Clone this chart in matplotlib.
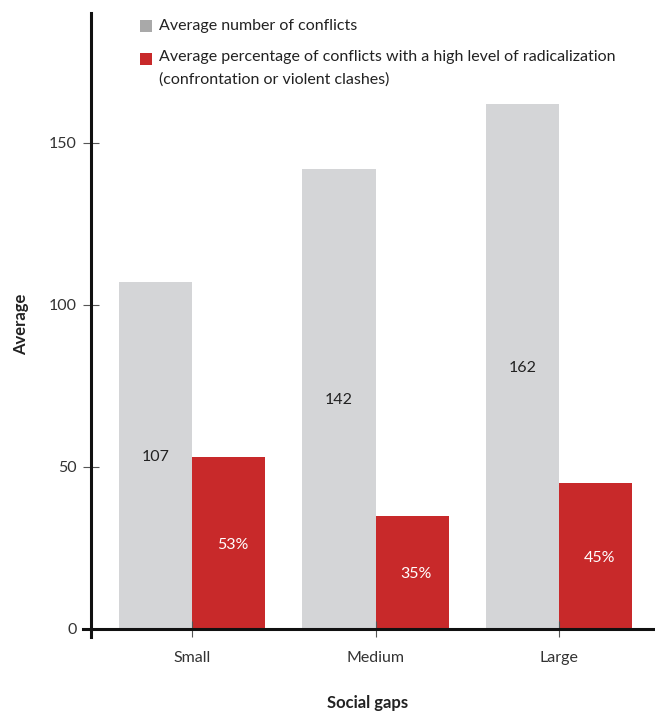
import matplotlib
matplotlib.use("Agg")
import matplotlib.pyplot as plt
from matplotlib.patches import Rectangle
import numpy as np

# Data
categories = ["Small", "Medium", "Large"]
avg_conflicts = [107, 142, 162]
pct_radical = [53, 35, 45]
y_ticks = [0, 50, 100, 150]
legend_labels = ["Average number of conflicts",
                 ["Average percentage of conflicts with a high level of radicalization",
                  "(confrontation or violent clashes)"]]

GRAY_BAR = "#D4D5D7"
GRAY_KEY = "#A9A9A9"
RED = "#C8292A"
TXT = "#222222"

plt.rcParams["font.family"] = ["Lato", "DejaVu Sans"]

fig = plt.figure(figsize=(6.55, 7.12), dpi=100)
W, H = 655, 712
ax = fig.add_axes([90.7 / W, 83 / H, (W - 90.7) / W, 616 / H])

x = np.arange(len(categories))
width = 0.4
b1 = ax.bar(x - width / 2, avg_conflicts, width, color=GRAY_BAR, zorder=1)
b2 = ax.bar(x + width / 2, pct_radical, width, color=RED, zorder=1)

for rect, v in zip(b1, avg_conflicts):
    ax.text(rect.get_x() + rect.get_width() / 2, v / 2, f"{v}",
            ha="center", va="center_baseline", fontsize=11.5, color=TXT)
for rect, v in zip(b2, pct_radical):
    ax.text(rect.get_x() + rect.get_width() / 2 + 0.02, v / 2, f"{v}%",
            ha="center", va="center_baseline", fontsize=11.5, color="white")

ax.set_xlim(-0.552, 2.523)
ax.set_ylim(0, 190)

for s in ("top", "right"):
    ax.spines[s].set_visible(False)
for s in ("left", "bottom"):
    ax.spines[s].set_linewidth(2.2)
    ax.spines[s].set_color("#111111")
    ax.spines[s].set_zorder(3)
ax.spines["left"].set_bounds(-2.6, 190)
ax.spines["bottom"].set_bounds(-0.595, 2.523)

ax.set_xticks(x)
ax.set_xticklabels(categories)
ax.set_yticks(y_ticks)
ax.tick_params(axis="both", direction="inout", length=12, width=0.8,
               color="#555555", labelsize=11.5, labelcolor="#333333")
ax.tick_params(axis="x", pad=10)
ax.tick_params(axis="y", pad=4)

ax.set_xlabel("Social gaps", fontsize=12, fontweight="bold", color=TXT)
ax.set_ylabel("Average", fontsize=12, fontweight="bold", color=TXT)
ax.xaxis.set_label_coords(0.49, -0.107)
ax.yaxis.set_label_coords(-0.11, 0.495)

# Key: swatches aligned with the first line of each entry
def px(xp, yp):
    return xp / W, 1 - yp / H

key_rows = [(GRAY_KEY, 20, [legend_labels[0]], [26]),
            (RED, 53, legend_labels[1], [57, 80])]
for color, top, lines, centers in key_rows:
    x0, y0 = px(140, top + 12)
    fig.patches.append(Rectangle((x0, y0), 12 / W, 12 / H, facecolor=color,
                                 edgecolor="none", transform=fig.transFigure))
    for line, cy in zip(lines, centers):
        tx, ty = px(159, cy)
        fig.text(tx, ty, line, ha="left", va="center", fontsize=11.5, color=TXT)

fig.savefig("out.png", dpi=100, facecolor="white")
